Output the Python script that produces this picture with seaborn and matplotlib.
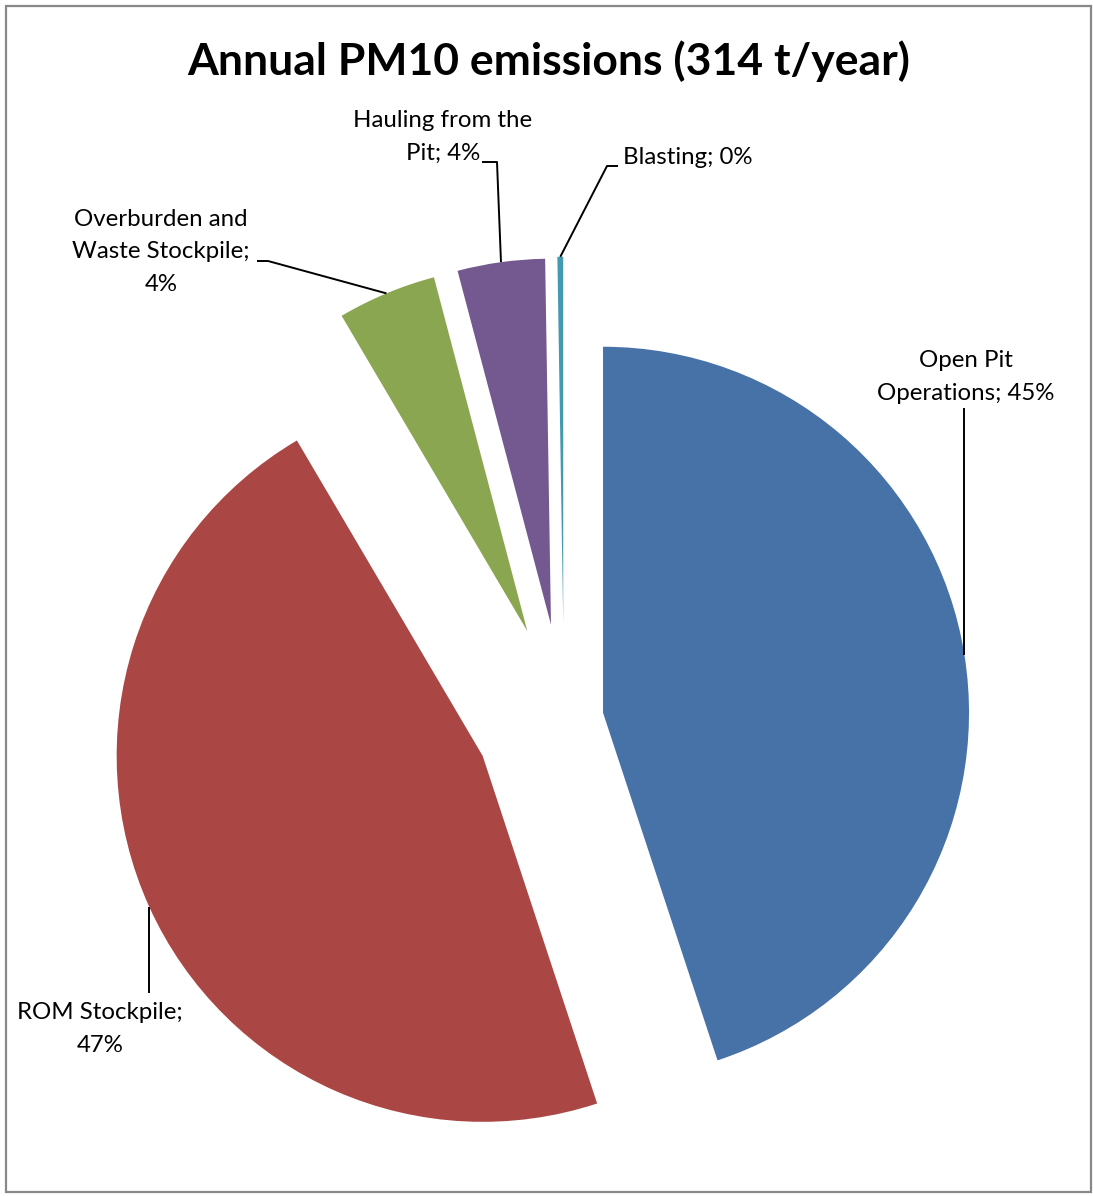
import matplotlib
matplotlib.use("Agg")
import matplotlib.pyplot as plt
import numpy as np
import seaborn as sns
from matplotlib.patches import Rectangle

# Annual PM10 emissions by source (t/year), listed clockwise from 12 o'clock
sources = ["Open Pit Operations", "ROM Stockpile", "Overburden and Waste Stockpile",
           "Hauling from the Pit", "Blasting"]
emissions = [141.1, 146.3, 13.7, 12.1, 0.8]
colors = ["#4772A8", "#AA4744", "#8BA650", "#73598F", "#4299B0"]
explode = [0.108, 0.244, 0.26, 0.26, 0.263]   # fraction of the radius
title = "Annual PM10 emissions (314 t/year)"

W, H = 1093, 1196
sns.set_theme(style="white")
plt.rcParams["font.family"] = ["Lato", "DejaVu Sans"]

fig = plt.figure(figsize=(W / 100, H / 100), dpi=100)
ax = fig.add_axes([0, 0, 1, 1])

def Y(y):
    return H - y

R = 366
wedges, _ = ax.pie(emissions, explode=[e * R for e in explode], colors=colors,
                   startangle=90, counterclock=False, center=(564, Y(719)),
                   radius=R, wedgeprops=dict(linewidth=0))
ax.set_xlim(0, W)
ax.set_ylim(0, H)
ax.set_aspect("equal")
ax.axis("off")

total = sum(emissions)
pct = [round(v / total * 100) for v in emissions]

def anchor(w):
    a = np.deg2rad((w.theta1 + w.theta2) / 2)
    return (w.center[0] + w.r * np.cos(a), w.center[1] + w.r * np.sin(a))

fs = 17.3
tk = dict(fontsize=fs, color="black", ha="center", va="center", ma="center",
          linespacing=1.66)

# label texts and positions
lbl = [
    ("Open Pit\nOperations; %d%%" % pct[0], (966, 377)),
    ("ROM Stockpile;\n%d%%" % pct[1], (100, 1029)),
    ("Overburden and\nWaste Stockpile;\n%d%%" % pct[2], (161, 252)),
    ("Hauling from the\nPit; %d%%" % pct[3], (443, 137)),
]
for (txt, (x, y)) in lbl:
    ax.text(x, Y(y), txt, **tk)
ax.text(623, Y(158), "Blasting; %d%%" % pct[4], fontsize=fs, color="black",
        ha="left", va="center")

# leader lines: label side first, arc anchor last
lead = [
    [(None, 408)],
    [(None, 993)],
    [(257, 261), (268, 261)],
    [(482, 162), (497, 162)],
    [(618, 166), (607, 166)],
]
for w, pts in zip(wedges, lead):
    axx, ayy = anchor(w)
    xs, ys = [], []
    for (px, py) in pts:
        xs.append(axx if px is None else px)
        ys.append(Y(py))
    xs.append(axx)
    ys.append(ayy)
    ax.plot(xs, ys, color="black", lw=1.4, solid_capstyle="butt")

ax.text(549, Y(75), title, fontsize=32, fontweight="bold", ha="center",
        va="baseline", color="black")

# chart-area border
ax.add_patch(Rectangle((6, Y(1192)), 1085, 1186, fill=False, edgecolor="#888888",
                       lw=1.6, transform=ax.transData, clip_on=False))

fig.savefig("out.png", dpi=100, facecolor="white")
